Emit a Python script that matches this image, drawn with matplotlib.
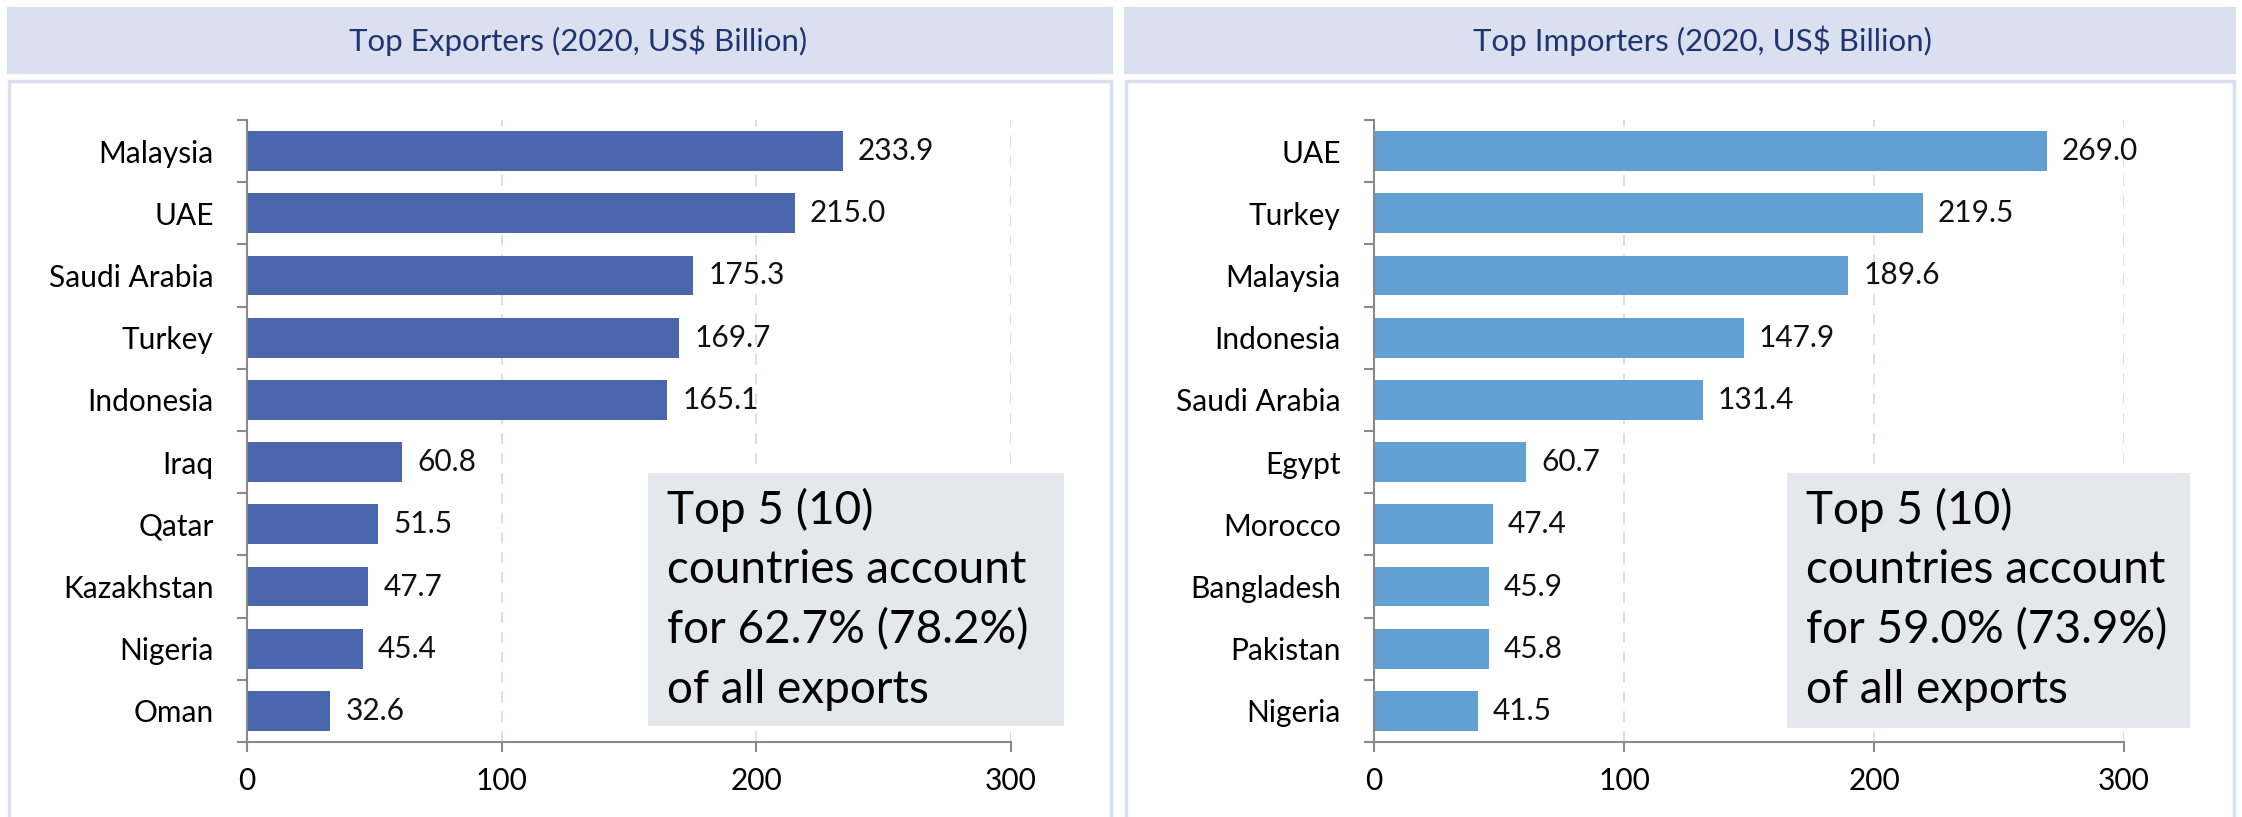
import matplotlib
matplotlib.use("Agg")
import matplotlib.pyplot as plt
from matplotlib.patches import Rectangle
import numpy as np

exp_countries = ["Malaysia", "UAE", "Saudi Arabia", "Turkey", "Indonesia",
                 "Iraq", "Qatar", "Kazakhstan", "Nigeria", "Oman"]
exp_values = [233.9, 215.0, 175.3, 169.7, 165.1, 60.8, 51.5, 47.7, 45.4, 32.6]

imp_countries = ["UAE", "Turkey", "Malaysia", "Indonesia", "Saudi Arabia",
                 "Egypt", "Morocco", "Bangladesh", "Pakistan", "Nigeria"]
imp_values = [269.0, 219.5, 189.6, 147.9, 131.4, 60.7, 47.4, 45.9, 45.8, 41.5]

x_ticks = [0, 100, 200, 300]

titles = ["Top Exporters (2020, US$ Billion)", "Top Importers (2020, US$ Billion)"]
notes = ["Top 5 (10)\ncountries account\nfor 62.7% (78.2%)\nof all exports",
         "Top 5 (10)\ncountries account\nfor 59.0% (73.9%)\nof all exports"]

W, H = 2242, 817
fig = plt.figure(figsize=(W / 100, H / 100), dpi=100)
plt.rcParams['font.family'] = ['Lato', 'DejaVu Sans']

def fx(px):
    return px / W

def fy(py):
    return 1 - py / H

band_col = "#DAE0EF"
border_col = "#D9DFF1"
title_col = "#1F3470"
box_col = "#E4E7EC"
spine_col = "#8A8A8A"
grid_col = "#D5DBEE"
FS = 21.5

panels = [
    dict(x0=7, x1=1113, ax_l=247, ax_r=1011, title_cx=578, box=(648, 473, 1064, 726),
         cats=exp_countries, vals=exp_values, color="#4A66AC"),
    dict(x0=1124, x1=2236, ax_l=1374, ax_r=2124, title_cx=1702, box=(1787, 473, 2190, 728),
         cats=imp_countries, vals=imp_values, color="#629FD3"),
]

ax_top, ax_bot = 120, 742

for i, p in enumerate(panels):
    # title band
    fig.patches.append(Rectangle((fx(p["x0"]), fy(74)), fx(p["x1"] - p["x0"]), 67 / H,
                                 transform=fig.transFigure, facecolor=band_col,
                                 edgecolor="none", zorder=0))
    fig.text(fx(p["title_cx"]), fy(41), titles[i], ha="center", va="center",
             fontsize=22.5, color=title_col)
    # panel border
    fig.patches.append(Rectangle((fx(p["x0"] + 2), fy(H + 5)), fx(p["x1"] - p["x0"] - 4),
                                 (H + 5 - 81) / H,
                                 transform=fig.transFigure, facecolor="none",
                                 edgecolor=border_col, linewidth=2.5, zorder=0))

    ax = fig.add_axes([fx(p["ax_l"]), fy(ax_bot), fx(p["ax_r"] - p["ax_l"]),
                       (ax_bot - ax_top) / H])
    ax.set_facecolor("none")
    n = len(p["cats"])
    y = np.arange(n)
    ax.barh(y, p["vals"], height=0.64, color=p["color"], zorder=3)
    ax.set_ylim(n - 0.5, -0.5)
    ax.set_xlim(0, 300)
    ax.set_yticks(y)
    ax.set_yticklabels(p["cats"], fontsize=FS)
    ax.set_yticks(np.arange(n + 1) - 0.5, minor=True)
    ax.tick_params(axis="y", which="major", length=0, pad=24)
    ax.tick_params(axis="y", which="minor", length=7, width=1.5, color=spine_col,
                   direction="out")
    ax.set_xticks(x_ticks)
    ax.set_xticklabels([str(t) for t in x_ticks], fontsize=FS)
    ax.tick_params(axis="x", length=7, width=1.5, color=spine_col, pad=11)
    for s in ["top", "right"]:
        ax.spines[s].set_visible(False)
    for s in ["left", "bottom"]:
        ax.spines[s].set_color(spine_col)
        ax.spines[s].set_linewidth(1.5)
        ax.spines[s].set_zorder(4)
    for t in x_ticks[1:]:
        ax.axvline(t, color=grid_col, linewidth=1.3, linestyle=(0, (6, 5)), zorder=1)
    for yy, v in zip(y, p["vals"]):
        ax.annotate(f"{v:.1f}", (v, yy), xytext=(11, 0), textcoords="offset points",
                    ha="left", va="center", fontsize=FS, color="#111111", zorder=5)

    bx0, by0, bx1, by1 = p["box"]
    fig.patches.append(Rectangle((fx(bx0), fy(by1)), fx(bx1 - bx0), (by1 - by0) / H,
                                 transform=fig.transFigure, facecolor=box_col,
                                 edgecolor="none", zorder=5))
    fig.text(fx(bx0 + 19), fy(by0 + 15), notes[i], ha="left", va="top",
             fontsize=33, linespacing=1.5, color="#000000", zorder=6)

fig.savefig("out.png", dpi=100)
